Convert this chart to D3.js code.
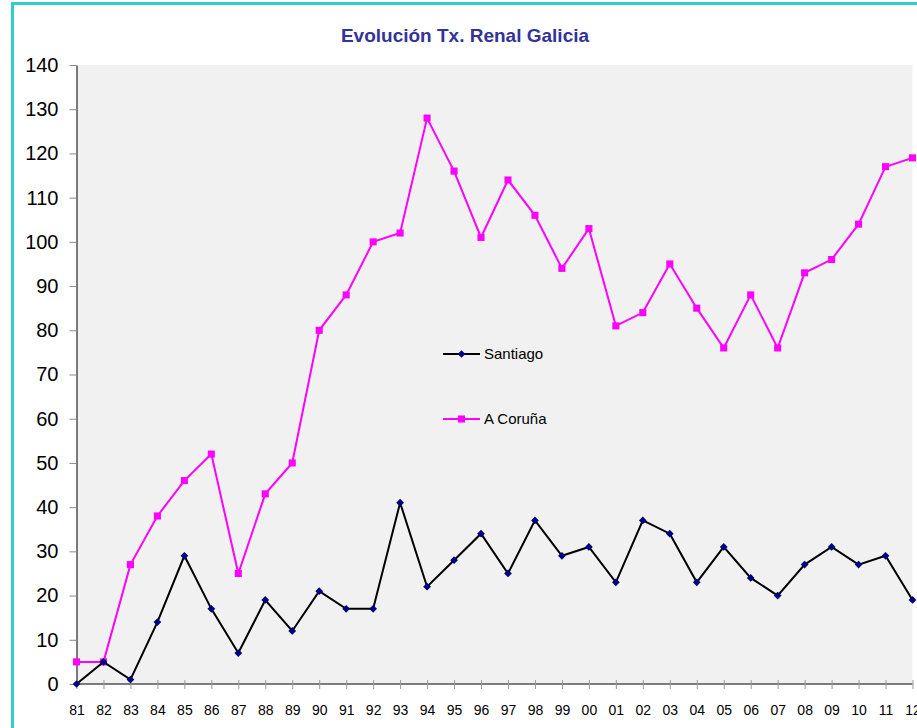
<!DOCTYPE html>
<html>
<head>
<meta charset="utf-8">
<script src="https://cdn.jsdelivr.net/npm/d3@7"></script>
<style>
  body { margin: 0; background: #fff; }
  svg text { font-family: Arial, "Liberation Sans", sans-serif; }
</style>
</head>
<body>
<div id="chart"></div>
<script>
// data
var years = ["81","82","83","84","85","86","87","88","89","90","91","92","93","94","95","96",
  "97","98","99","00","01","02","03","04","05","06","07","08","09","10","11","12"];
var santiago = [0,5,1,14,29,17,7,19,12,21,17,17,41,22,28,34,25,37,29,31,23,37,34,23,31,24,20,27,31,27,29,19];
var coruna = [5,5,27,38,46,52,25,43,50,80,88,100,102,128,116,101,114,106,94,103,81,84,95,85,76,88,76,93,96,104,117,119];
var yTicks = d3.range(0, 141, 10);

var series = [
  {name: "Santiago", values: santiago, line: "#000000", fill: "#000080", rot: 45, size: 30, ly: 354},
  {name: "A Coruña", values: coruna, line: "#ff00ff", fill: "#ff00ff", rot: 0, size: 50, ly: 419}
];

// magic numbers
var W = 917, H = 728;
var margin = {left: 76.5, top: 65, right: 4.5, bottom: 44};
var width = W - margin.left - margin.right, height = H - margin.top - margin.bottom;

var svg = d3.select("#chart").append("svg")
  .attr("width", W).attr("height", H);

// outer border
svg.append("rect")
  .attr("x", 12.5).attr("y", 3.5)
  .attr("width", W + 20).attr("height", H + 20)
  .attr("fill", "none").attr("stroke", "#33cccc").attr("stroke-width", 3);

svg.append("text")
  .attr("x", 465).attr("y", 42)
  .attr("text-anchor", "middle")
  .style("font-size", "19px").style("font-weight", "bold")
  .attr("fill", "#333399")
  .text("Evolución Tx. Renal Galicia");

var g = svg.append("g").attr("transform", "translate(" + margin.left + "," + margin.top + ")");

var x = d3.scalePoint().domain(years).range([0, width]);
var y = d3.scaleLinear().domain([0, 140]).range([height, 0]);

g.append("rect")
  .attr("width", width).attr("height", height)
  .attr("fill", "#f1f1f1");

// y axis
var yAxis = g.append("g").call(d3.axisLeft(y).tickValues(yTicks).tickSize(7).tickSizeOuter(0).tickPadding(11));
yAxis.select(".domain").attr("stroke", "#000");
yAxis.selectAll(".tick line").attr("stroke", "#888");
yAxis.selectAll(".tick text").style("font-size", "20px").attr("fill", "#000");

// x axis, ticks cross the line
var xAxis = g.append("g").attr("transform", "translate(0," + height + ")")
  .call(d3.axisBottom(x).tickSize(5).tickSizeOuter(0));
xAxis.select(".domain").attr("stroke", "#000").attr("d", "M0,0H" + width);
xAxis.selectAll(".tick line").attr("y1", -4).attr("stroke", "#999");
xAxis.selectAll(".tick text").style("font-size", "14px").attr("fill", "#000")
  .attr("y", 31).attr("dy", null);

var line = d3.line()
  .x(function(d, i){ return x(years[i]); })
  .y(function(d){ return y(d); });

series.slice().reverse().forEach(function(s){
  g.append("path")
    .datum(s.values)
    .attr("d", line)
    .attr("fill", "none")
    .attr("stroke", s.line)
    .attr("stroke-width", 2);

  g.selectAll(null).data(s.values).enter().append("path")
    .attr("transform", function(d, i){ return "translate(" + x(years[i]) + "," + y(d) + ") rotate(" + s.rot + ")"; })
    .attr("d", d3.symbol().type(d3.symbolSquare).size(s.size))
    .attr("fill", s.fill);
});

// legend
series.forEach(function(s){
  var lg = svg.append("g").attr("transform", "translate(443," + s.ly + ")");
  lg.append("line").attr("x1", 0).attr("x2", 37).attr("stroke", s.line).attr("stroke-width", 2);
  lg.append("path").attr("transform", "translate(18.5,0) rotate(" + s.rot + ")")
    .attr("d", d3.symbol().type(d3.symbolSquare).size(s.size)).attr("fill", s.fill);
  lg.append("text").attr("x", 41).attr("dy", "0.35em")
    .style("font-size", "15px").attr("fill", "#000").text(s.name);
});
</script>
</body>
</html>
